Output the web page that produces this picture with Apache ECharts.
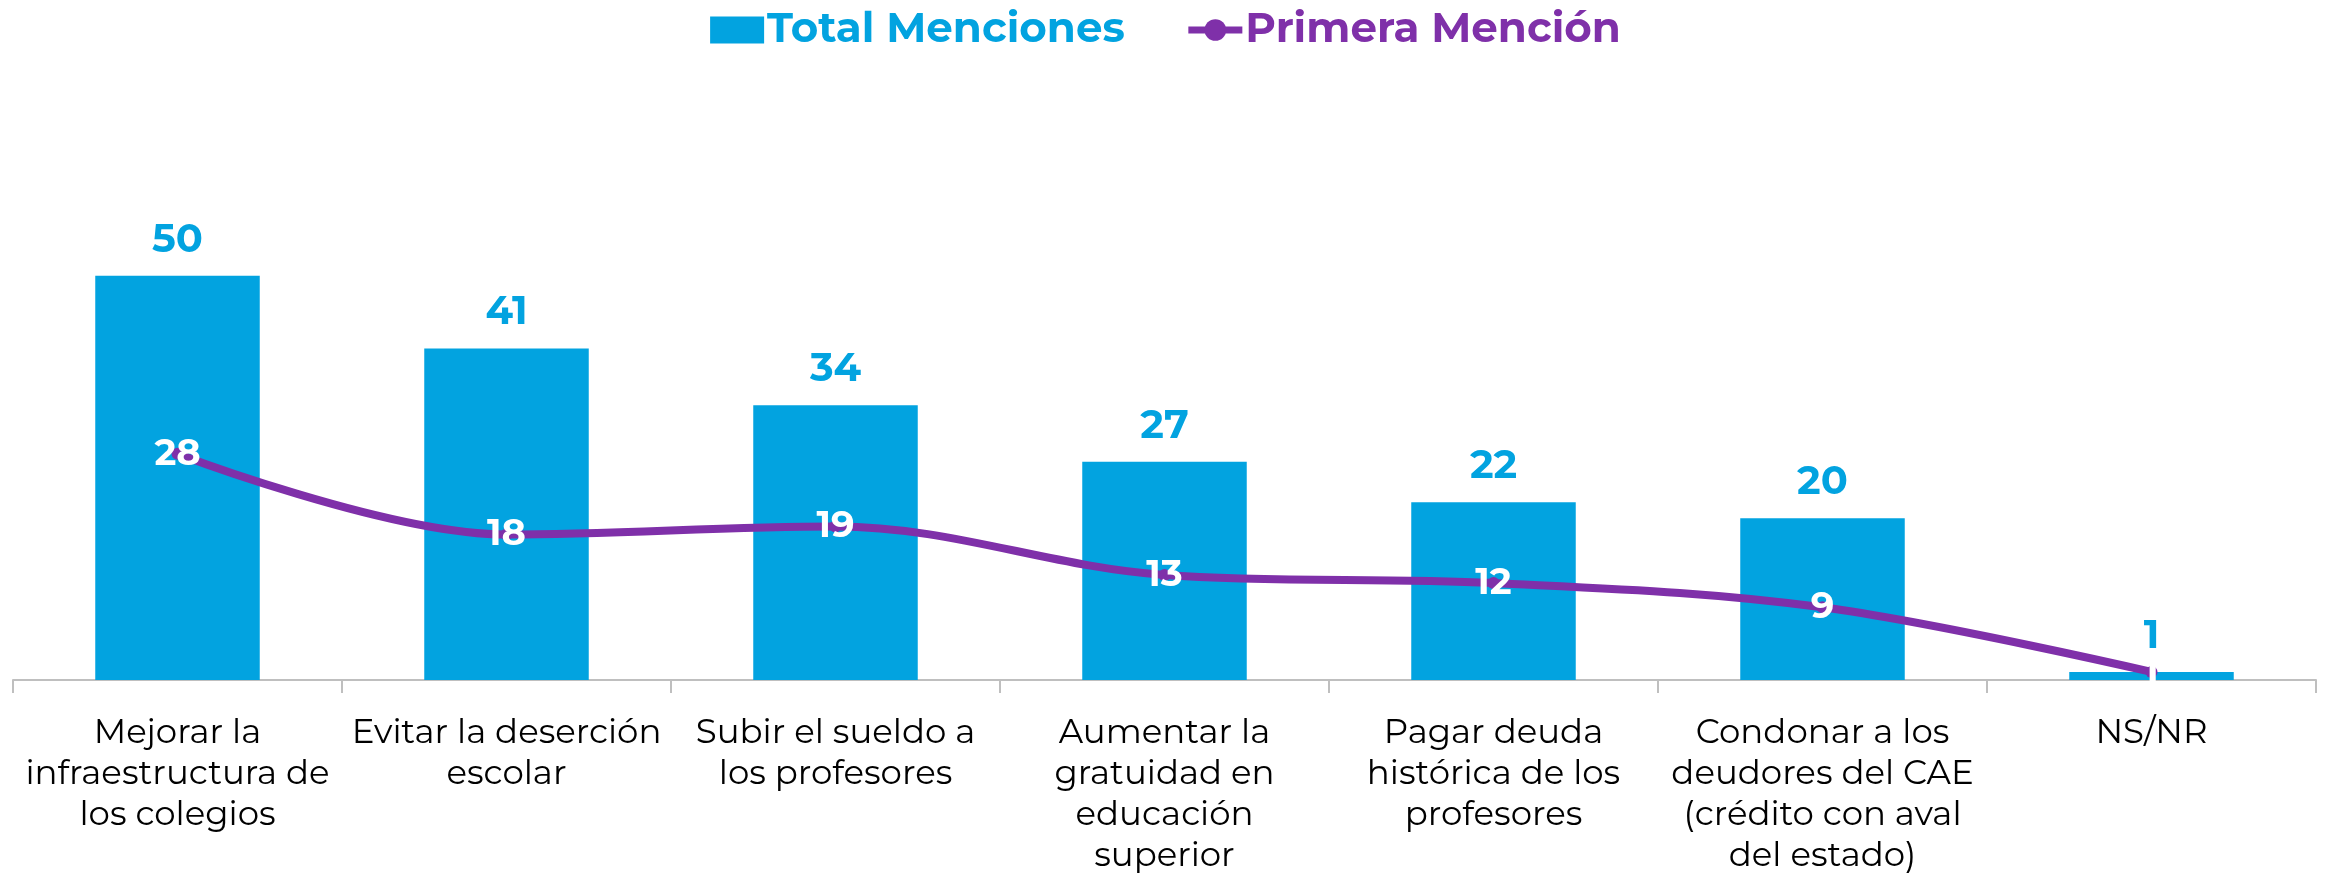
<!DOCTYPE html>
<html>
<head>
<meta charset="utf-8">
<script src="https://cdn.jsdelivr.net/npm/echarts@6/dist/echarts.min.js"></script>
<style>
  html, body { margin: 0; padding: 0; background: #fff; }
  #chart { width: 2331px; height: 879px; }
</style>
</head>
<body>
<div id="chart"></div>
<script>
const categories = [
  'Mejorar la\ninfraestructura de\nlos colegios',
  'Evitar la deserción\nescolar',
  'Subir el sueldo a\nlos profesores',
  'Aumentar la\ngratuidad en\neducación\nsuperior',
  'Pagar deuda\nhistórica de los\nprofesores',
  'Condonar a los\ndeudores del CAE\n(crédito con aval\ndel estado)',
  'NS/NR'
]
const totalMenciones = [50, 41, 34, 27, 22, 20, 1]
const primeraMencion = [28, 18, 19, 13, 12, 9, 1]

const blue = '#02A3E0'
const purple = '#7F30A9'
const font = 'Montserrat, "DejaVu Sans", sans-serif'

const chart = echarts.init(document.getElementById('chart'))

chart.setOption({
  animation: false,
  legend: {
    top: 4,
    left: 'center',
    itemWidth: 54,
    itemHeight: 27,
    itemGap: 60,
    textStyle: { fontFamily: font, fontSize: 42, fontWeight: 'bold', padding: [0, 0, 0, -2] },
    data: [
      { name: 'Total Menciones', icon: 'rect', textStyle: { color: blue } },
      {
        name: 'Primera Mención',
        textStyle: { color: purple },
        lineStyle: { width: 7, color: purple },
        itemStyle: { color: purple }
      }
    ]
  },
  grid: {
    left: 13,
    right: 15,
    top: 195,
    bottom: 199,
    outerBoundsMode: 'none'
  },
  xAxis: {
    type: 'category',
    data: categories,
    axisLine: { lineStyle: { color: '#BFBFBF', width: 2 } },
    axisTick: { show: true, length: 13, lineStyle: { color: '#BFBFBF', width: 2 } },
    axisLabel: {
      color: '#000',
      fontFamily: font,
      fontSize: 34,
      lineHeight: 41,
      margin: 32,
      interval: 0
    }
  },
  yAxis: {
    type: 'value',
    min: 0,
    max: 60,
    show: false,
    splitLine: { show: false }
  },
  series: [
    {
      name: 'Total Menciones',
      type: 'bar',
      data: totalMenciones,
      barWidth: '50%',
      itemStyle: { color: blue },
      label: {
        show: true,
        position: 'top',
        distance: 16,
        color: blue,
        fontFamily: font,
        fontSize: 40,
        fontWeight: 'bold'
      }
    },
    {
      name: 'Primera Mención',
      type: 'line',
      data: primeraMencion,
      smooth: 0.35,
      symbol: 'circle',
      symbolSize: 12,
      itemStyle: { color: purple },
      lineStyle: { color: purple, width: 8 },
      label: {
        show: true,
        position: 'inside',
        color: '#fff',
        fontFamily: font,
        fontSize: 37,
        fontWeight: 'bold'
      },
      z: 3
    }
  ]
})
</script>
</body>
</html>
